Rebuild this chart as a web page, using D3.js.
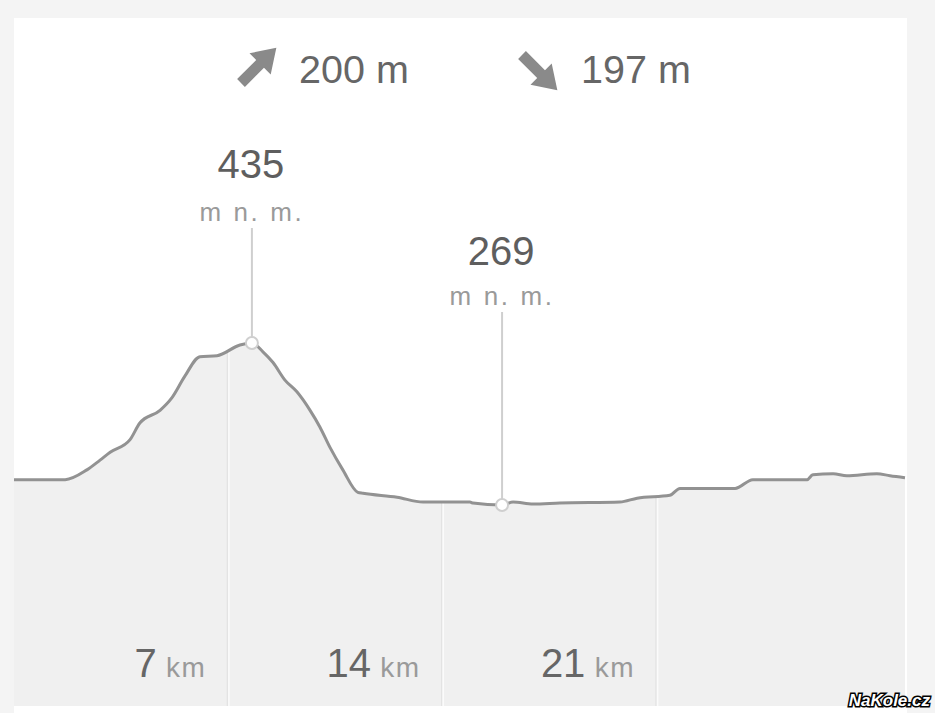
<!DOCTYPE html>
<html>
<head>
<meta charset="utf-8">
<script src="https://cdn.jsdelivr.net/npm/d3@7/dist/d3.min.js"></script>
<style>
html,body{margin:0;padding:0;background:#f4f4f4;}
svg{display:block;font-family:"Liberation Sans",Arial,sans-serif;}
</style>
</head>
<body>
<svg id="chart" width="935" height="713"></svg>
<script>
// Elevation profile: distance (km) and altitude (m n. m.)
const distanceKm = [0, 1.67, 2.38, 2.81, 3.14, 3.79, 4.11, 4.77, 5.16, 5.58, 6.07, 6.63, 7.38, 7.77, 8.13, 8.46, 8.85, 9.24, 9.67, 9.99, 10.32, 10.74, 11.23, 11.40, 12.51, 13.36, 14.89, 14.99, 15.94, 16.30, 16.95, 17.83, 19.79, 20.35, 21.42, 21.75, 23.55, 24.13, 25.90, 26.09, 26.75, 27.20, 28.18, 28.61, 29.10];
const altitudeM  = [295, 295, 305, 315, 323, 336, 353, 366, 379, 401, 421, 422, 433, 435, 426, 415, 397, 385, 366, 349, 328, 305, 282, 281, 277, 272, 272, 271, 269, 272, 270, 271, 272, 276, 279, 286, 286, 295, 295, 300, 301, 299, 301, 299, 297];
const tickKm = [7, 14, 21];
const tickLabels = ["7", "14", "21"];
const unitKm = "km";
const ascentText = "200 m";
const descentText = "197 m";
const highlightKm = [7.77, 15.94];
const highlightAlt = [435, 269];
const altUnit = "m n. m.";

const data = distanceKm.map((d, i) => ({km: d, alt: altitudeM[i]}));

const svg = d3.select("#chart");
const W = 935, H = 713;
const card = {x: 14, y: 18, w: 893, h: 695};
const bottom = 706;

const x = d3.scaleLinear().domain([0, 29.1]).range([14, 905]);
const y = d3.scaleLinear().domain([435, 269]).range([343, 505]);

// background
svg.append("rect").attr("width", W).attr("height", H).attr("fill", "#f4f4f4");
svg.append("rect").attr("x", card.x).attr("y", card.y).attr("width", card.w).attr("height", card.h).attr("fill", "#ffffff");

// header
const hdr = svg.append("g");
const arrowPts = [[0,-5.5],[27,-5.5],[27,-15],[50,0],[27,15],[27,5.5],[0,5.5]];
const arrowPath = "M" + arrowPts.map(p => p.join(",")).join("L") + "Z";
hdr.append("path").attr("d", arrowPath).attr("fill", "#8a8a8a")
  .attr("transform", "translate(241,83) rotate(-45)");
hdr.append("path").attr("d", arrowPath).attr("fill", "#8a8a8a")
  .attr("transform", "translate(522,55) rotate(45)");
hdr.append("text").attr("x", 299).attr("y", 83).attr("font-size", 39.5).attr("fill", "#666").text(ascentText);
hdr.append("text").attr("x", 581).attr("y", 83).attr("font-size", 39.5).attr("fill", "#666").text(descentText);

// area + line
const area = d3.area().x(d => x(d.km)).y0(bottom).y1(d => y(d.alt)).curve(d3.curveMonotoneX);
const line = d3.line().x(d => x(d.km)).y(d => y(d.alt)).curve(d3.curveMonotoneX);

const defs = svg.append("defs");
defs.append("clipPath").attr("id", "areaClip").append("path").attr("d", area(data));

svg.append("path").attr("d", area(data)).attr("fill", "#f0f0f0");

// vertical grid lines inside area
const grid = svg.append("g").attr("clip-path", "url(#areaClip)");
grid.selectAll("line.g1").data(tickKm).enter().append("line")
  .attr("x1", d => x(d) - 1).attr("x2", d => x(d) - 1).attr("y1", 300).attr("y2", bottom)
  .attr("stroke", "#e2e2e2").attr("stroke-width", 1.2);
grid.selectAll("line.g2").data(tickKm).enter().append("line")
  .attr("x1", d => x(d) + 0.6).attr("x2", d => x(d) + 0.6).attr("y1", 300).attr("y2", bottom)
  .attr("stroke", "#fbfbfb").attr("stroke-width", 1.5);

svg.append("path").attr("d", line(data)).attr("fill", "none")
  .attr("stroke", "#929292").attr("stroke-width", 3).attr("stroke-linejoin", "round");

// km labels
const kmG = svg.append("g");
tickKm.forEach((k, i) => {
  const t = kmG.append("text").attr("x", x(k) - 22).attr("y", 677).attr("text-anchor", "end");
  t.append("tspan").attr("font-size", 40).attr("fill", "#666").text(tickLabels[i]);
  t.append("tspan").attr("font-size", 28).attr("fill", "#9a9a9a").attr("letter-spacing", 1.5).text(" " + unitKm);
});

// highlight labels (max, min)
const labelY = [{num: 178, unit: 221, lineTop: 228}, {num: 265, unit: 305, lineTop: 312}];
highlightKm.forEach((k, i) => {
  const cx = x(k), cy = y(highlightAlt[i]);
  svg.append("line").attr("x1", cx).attr("x2", cx).attr("y1", labelY[i].lineTop).attr("y2", cy)
    .attr("stroke", "#cfcfcf").attr("stroke-width", 2);
  svg.append("circle").attr("cx", cx).attr("cy", cy).attr("r", 6)
    .attr("fill", "#fff").attr("stroke", "#cfcfcf").attr("stroke-width", 2);
  svg.append("text").attr("x", cx - 1).attr("y", labelY[i].num).attr("text-anchor", "middle")
    .attr("font-size", 40).attr("fill", "#5e5e5e").text(highlightAlt[i]);
  svg.append("text").attr("x", cx).attr("y", labelY[i].unit).attr("text-anchor", "middle")
    .attr("font-size", 26).attr("letter-spacing", 2.6).attr("fill", "#9a9a9a").text(altUnit);
});

// watermark
svg.append("text").attr("x", 930).attr("y", 706).attr("text-anchor", "end")
  .attr("font-size", 17).attr("font-weight", "bold").attr("font-style", "italic")
  .attr("fill", "#fff").attr("stroke", "#000").attr("stroke-width", 3).attr("paint-order", "stroke")
  .attr("font-family", "'Liberation Sans', Arial, sans-serif").text("NaKole.cz");
</script>
</body>
</html>
